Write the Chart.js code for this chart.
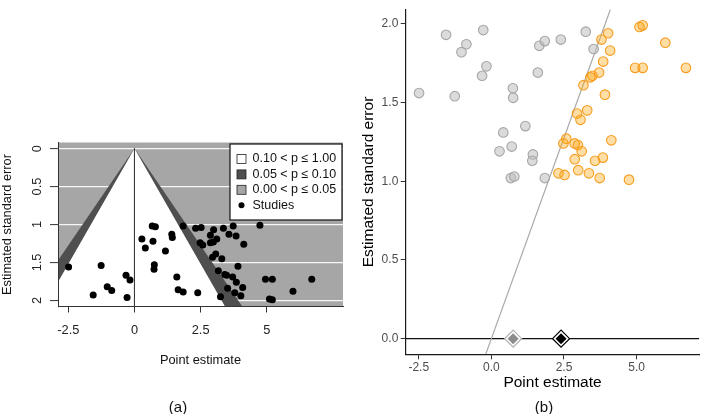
<!DOCTYPE html>
<html><head><meta charset="utf-8">
<script src="https://cdn.jsdelivr.net/npm/chart.js@4"></script>
<style>
html,body{margin:0;padding:0;background:#fff}
body{width:709px;height:414px;overflow:hidden;position:relative;font-family:'Liberation Sans',Arial,sans-serif}
#wa{position:absolute;left:0;top:0;width:355px;height:414px}
#wb{position:absolute;left:355px;top:0;width:354px;height:414px}
.cap{position:absolute;top:398px;font-size:15px;line-height:17px;color:#111;transform:translateX(-50%)}
</style></head><body>
<div id="wa"><canvas id="ca" width="355" height="414"></canvas></div>
<div id="wb"><canvas id="cb" width="354" height="414"></canvas></div>
<div class="cap" style="left:178px">(a)</div>
<div class="cap" style="left:544px">(b)</div>
<script>
// ---- data ----
// studies not significant at 5% (grey in panel b)
const nsEstimate = [-2.49,-1.56,-1.26,-1.03,-0.86,-0.28,-0.17,-0.32,0.41,0.28,0.70,0.67,0.79,0.74,0.75,1.17,1.43,1.41,1.60,1.65,1.84,1.84,2.39,3.25,3.52];
const nsSE       = [1.56,1.93,1.54,1.82,1.87,1.96,1.73,1.67,1.31,1.19,1.22,1.02,1.03,1.59,1.53,1.35,1.17,1.13,1.69,1.86,1.89,1.02,1.90,1.95,1.84];
// studies significant at 5% (orange in panel b)
const sigEstimate = [3.79,4.02,4.09,3.85,3.71,3.48,3.41,3.17,3.91,2.95,3.30,3.07,2.58,2.48,2.87,2.98,3.11,4.13,2.87,3.57,3.84,2.31,2.52,2.99,3.36,3.73,4.74,5.10,5.21,5.99,4.95,5.21,6.70];
const sigSE       = [1.90,1.94,1.83,1.76,1.69,1.67,1.66,1.61,1.55,1.43,1.45,1.39,1.27,1.24,1.24,1.23,1.19,1.26,1.14,1.13,1.15,1.05,1.04,1.07,1.05,1.02,1.01,1.98,1.99,1.88,1.72,1.72,1.72];
// funnel contours of panel (a): vertices (estimate, standard error)
const funnelSE  = [2.2, 0, 2.2];
const funnel10X = [-3.62, 0, 3.62];   // p = 0.10 contour
const funnel05X = [-4.31, 0, 4.31];   // p = 0.05 contour
const centreX   = [0, 0];
const centreSE  = [0, 2.2];
// panel (b): significance line and pooled estimates
const sigLineX  = [-0.196, 4.116];
const sigLineSE = [-0.1, 2.1];
const pooledEstimate = [0.75, 2.40];
const pooledSE       = [0, 0];
// axes
const xRangeA = [-2.89, 7.88], seRangeA = [-0.08, 2.08];
const xRangeB = [-2.95, 7.16], seRangeB = [-0.0995, 2.0895];
const xTicksA = [-2.5, 0, 2.5, 5],   xTickLabelsA = ['-2.5','0','2.5','5'];
const yTicksA = [0, 0.5, 1, 1.5, 2], yTickLabelsA = ['0','0.5','1','1.5','2'];
const xTicksB = [-2.5, 0, 2.5, 5],   xTickLabelsB = ['-2.5','0.0','2.5','5.0'];
const yTicksB = [0, 0.5, 1, 1.5, 2], yTickLabelsB = ['0.0','0.5','1.0','1.5','2.0'];
const legendLabels = ['0.10 < p \u2264 1.00', '0.05 < p \u2264 0.10', '0.00 < p \u2264 0.05', 'Studies'];

// ---- styling ----
const FONT = "'Liberation Sans', Arial, sans-serif";
Chart.defaults.font.family = FONT;
const GREY_BG = '#a6a6a6', DARK = '#4f4f4f';
const legendFill = ['#ffffff', DARK, GREY_BG];
const pts = (xs, ys) => xs.map((x, i) => ({x, y: ys[i]}));

const bgPlugin = {
  id: 'bgA',
  beforeDraw(c) {
    const {ctx, chartArea: a} = c;
    ctx.save(); ctx.fillStyle = GREY_BG;
    ctx.fillRect(a.left, a.top, a.right - a.left, a.bottom - a.top);
    ctx.restore();
  }
};
const legendPlugin = {
  id: 'legA',
  afterDraw(c) {
    const {ctx, chartArea: a} = c;
    const w = 112, h = 76, x0 = a.right - w - 1, y0 = a.top + 1.5;
    ctx.save();
    ctx.fillStyle = '#fff'; ctx.fillRect(x0, y0, w, h);
    ctx.strokeStyle = '#111'; ctx.lineWidth = 1.2; ctx.strokeRect(x0, y0, w, h);
    ctx.font = '12.5px ' + FONT; ctx.textBaseline = 'middle'; ctx.textAlign = 'left';
    legendLabels.forEach((t, i) => {
      const cy = y0 + 15 + i * 15.4;
      if (i < 3) {
        ctx.fillStyle = legendFill[i]; ctx.fillRect(x0 + 7, cy - 4.5, 9, 9);
        ctx.strokeStyle = '#222'; ctx.lineWidth = 0.8; ctx.strokeRect(x0 + 7, cy - 4.5, 9, 9);
      } else {
        ctx.beginPath(); ctx.arc(x0 + 11.5, cy, 3, 0, Math.PI * 2); ctx.fillStyle = '#000'; ctx.fill();
      }
      ctx.fillStyle = '#111'; ctx.fillText(t, x0 + 22.5, cy);
    });
    ctx.restore();
  }
};

const ticksFrom = (vals) => (s) => { s.ticks = vals.map(v => ({value: v})); };

// ---- panel (a) ----
new Chart(document.getElementById('ca'), {
  type: 'scatter',
  data: { datasets: [
    {type: 'line', label: legendLabels[1], data: pts(funnel05X, funnelSE), borderWidth: 0, pointRadius: 0,
     fill: 'start', backgroundColor: DARK, tension: 0, order: 5},
    {type: 'line', label: legendLabels[0], data: pts(funnel10X, funnelSE), borderWidth: 0, pointRadius: 0,
     fill: 'start', backgroundColor: '#ffffff', tension: 0, order: 4},
    {type: 'line', label: 'centre', data: pts(centreX, centreSE), borderColor: '#3a3a3a', borderWidth: 1,
     pointRadius: 0, fill: false, order: 3},
    {type: 'scatter', label: legendLabels[3], data: pts(nsEstimate.concat(sigEstimate), nsSE.concat(sigSE)),
     pointRadius: 3.5, backgroundColor: '#000', borderWidth: 0, order: 1}
  ]},
  options: {
    responsive: false, animation: false, devicePixelRatio: 1,
    layout: {padding: {left: 0, right: 12, top: 142.5, bottom: 46.3}},
    plugins: {legend: {display: false}, tooltip: {enabled: false}},
    scales: {
      x: {type: 'linear', min: xRangeA[0], max: xRangeA[1],
        afterBuildTicks: ticksFrom(xTicksA),
        ticks: {callback: (v, i) => xTickLabelsA[i], color: '#222', font: {size: 12.8}, padding: 10, maxRotation: 0, autoSkip: false},
        grid: {drawOnChartArea: false, tickLength: 6, tickColor: '#333', tickWidth: 1},
        border: {display: true, color: '#333', width: 1, z: 1},
        title: {display: true, text: 'Point estimate', font: {size: 12.8}, color: '#111', padding: 0},
        afterFit: (s) => { s.height = 61.2; }
      },
      y: {type: 'linear', reverse: true, min: seRangeA[0], max: seRangeA[1],
        afterBuildTicks: ticksFrom(yTicksA),
        ticks: {callback: (v, i) => yTickLabelsA[i], color: '#222', font: {size: 12.8}, padding: 3.6,
                minRotation: 90, maxRotation: 90, crossAlign: 'center', autoSkip: false},
        grid: {color: 'rgba(255,255,255,0.9)', lineWidth: 1.2, tickColor: '#333', tickLength: 8, tickWidth: 1},
        border: {display: true, color: '#333', width: 1, z: 1},
        title: {display: true, text: 'Estimated standard error', font: {size: 12.8}, color: '#111', padding: 0},
        afterFit: (s) => { s.width = 58; }
      }
    }
  },
  plugins: [bgPlugin, legendPlugin]
});

// ---- panel (b) ----
new Chart(document.getElementById('cb'), {
  type: 'scatter',
  data: { datasets: [
    {type: 'line', label: 'zero', data: pts(xRangeB, [0, 0]), borderColor: '#111', borderWidth: 1.3,
     pointRadius: 0, fill: false, order: 6},
    {type: 'line', label: 'significance', data: pts(sigLineX, sigLineSE), borderColor: '#a8a8a8', borderWidth: 1.2,
     pointRadius: 0, fill: false, order: 5},
    {label: 'not significant', data: pts(nsEstimate, nsSE), pointRadius: 4.8,
     backgroundColor: 'rgba(190,190,190,0.55)', borderColor: '#a6a6a6', borderWidth: 1.1, order: 4},
    {label: 'significant', data: pts(sigEstimate, sigSE), pointRadius: 4.8,
     backgroundColor: 'rgba(255,160,0,0.35)', borderColor: '#f59d20', borderWidth: 1.1, order: 3},
    {label: 'pooled outer', data: pts(pooledEstimate, pooledSE), pointStyle: 'rectRot', pointRadius: 8.5,
     backgroundColor: '#fff', borderColor: ['#b0b0b0', '#000'], borderWidth: 1.2, order: 2},
    {label: 'pooled', data: pts(pooledEstimate, pooledSE), pointStyle: 'rectRot', pointRadius: 5.5,
     backgroundColor: ['#8c8c8c', '#000'], borderWidth: 0, order: 1}
  ]},
  options: {
    responsive: false, animation: false, devicePixelRatio: 1,
    layout: {padding: {left: 0, right: 1.5, top: 1.2, bottom: 22}},
    plugins: {legend: {display: false}, tooltip: {enabled: false}},
    scales: {
      x: {type: 'linear', min: xRangeB[0], max: xRangeB[1],
        afterBuildTicks: ticksFrom(xTicksB),
        ticks: {callback: (v, i) => xTickLabelsB[i], color: '#4d4d4d', font: {size: 12}, padding: 1.5, maxRotation: 0, autoSkip: false},
        grid: {drawOnChartArea: false, tickLength: 5, tickColor: '#333', tickWidth: 1},
        border: {display: true, color: '#1a1a1a', width: 1.2},
        title: {display: true, text: 'Point estimate', font: {size: 15.5}, color: '#000', padding: 0},
        afterFit: (s) => { s.height = 37.7; }
      },
      y: {type: 'linear', min: seRangeB[0], max: seRangeB[1],
        afterBuildTicks: ticksFrom(yTicksB),
        ticks: {callback: (v, i) => yTickLabelsB[i], color: '#4d4d4d', font: {size: 12}, padding: 2.4, autoSkip: false},
        grid: {drawOnChartArea: false, tickLength: 5, tickColor: '#333', tickWidth: 1},
        border: {display: true, color: '#1a1a1a', width: 1.2},
        title: {display: true, text: 'Estimated standard error', font: {size: 15.5}, color: '#000', padding: {top: 4, bottom: 0}},
        afterFit: (s) => { s.width = 50.7; }
      }
    }
  }
});
</script>
</body></html>
